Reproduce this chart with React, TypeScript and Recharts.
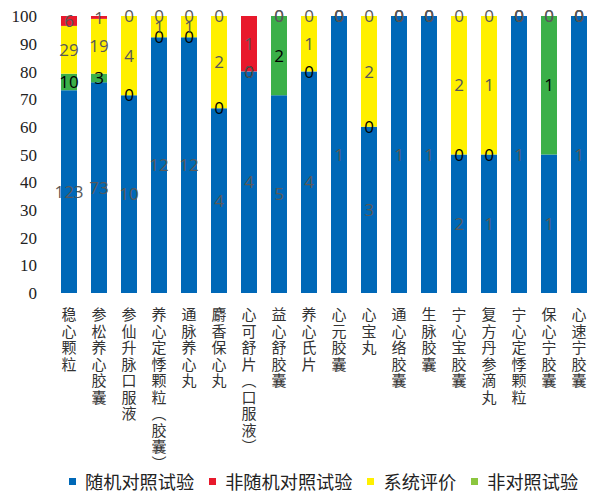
import { BarChart, Bar, XAxis, YAxis, LabelList } from 'recharts';

const categories = [
  '稳心颗粒', '参松养心胶囊', '参仙升脉口服液', '养心定悸颗粒（胶囊）', '通脉养心丸', '麝香保心丸',
  '心可舒片（口服液）', '益心舒胶囊', '养心氏片', '心元胶囊', '心宝丸', '通心络胶囊',
  '生脉胶囊', '宁心宝胶囊', '复方丹参滴丸', '宁心定悸颗粒', '保心宁胶囊', '心速宁胶囊'
];
const rct = [123, 73, 10, 12, 12, 4, 4, 5, 4, 1, 3, 1, 1, 2, 1, 1, 1, 1];
const nonRct = [6, 1, 0, 0, 0, 0, 1, 0, 0, 0, 0, 0, 0, 0, 0, 0, 0, 0];
const review = [29, 19, 4, 1, 1, 2, 0, 0, 1, 0, 2, 0, 0, 2, 1, 0, 0, 0];
const nonControlled = [10, 3, 0, 0, 0, 0, 0, 2, 0, 0, 0, 0, 0, 0, 0, 0, 1, 0];
const yTicks = [0, 0.1, 0.2, 0.3, 0.4, 0.5, 0.6, 0.7, 0.8, 0.9, 1];

// stacking order, bottom to top
const stack = [
  { key: 'rct', values: rct, color: '#0068b7', label: '#595959' },
  { key: 'nonControlled', values: nonControlled, color: '#3bb049', label: '#000' },
  { key: 'review', values: review, color: '#fff000', label: '#595959' },
  { key: 'nonRct', values: nonRct, color: '#e8192c', label: '#595959' }
];

const legendItems = [
  { name: '随机对照试验', color: '#0068b7' },
  { name: '非随机对照试验', color: '#e8192c' },
  { name: '系统评价', color: '#fff000' },
  { name: '非对照试验', color: '#8cc63f' }
];

const data = categories.map((name, i) => ({
  name,
  rct: rct[i],
  nonRct: nonRct[i],
  review: review[i],
  nonControlled: nonControlled[i]
}));

const verticalForm = (s: string) => s.replace(/（/g, '︵').replace(/）/g, '︶');

function CategoryTick({ x, y, payload }: any) {
  const chars = Array.from(verticalForm(String(payload.value)));
  return (
    <text
      x={x}
      y={y + 25}
      textAnchor="middle"
      fill="#333"
      style={{ fontFamily: '"Noto Sans CJK SC", sans-serif', fontSize: 15 }}
    >
      {chars.map((c, i) => (
        <tspan key={i} x={x} dy={i === 0 ? 0 : 16.5}>{c}</tspan>
      ))}
    </text>
  );
}

function ValueTick({ x, y, payload }: any) {
  return (
    <text
      x={x}
      y={y}
      dy="0.36em"
      textAnchor="end"
      fill="#222"
      style={{ fontFamily: '"Liberation Serif", "DejaVu Serif", serif', fontSize: 17 }}
    >
      {Math.round(payload.value * 100)}
    </text>
  );
}

const labelFont = { fontFamily: '"Open Sans", sans-serif', fontSize: 17 };

// draws this segment's label, plus labels of zero-valued segments stacked right above it
const makeLabel = (level: number) => (props: any) => {
  const { x, y, width, height, value } = props;
  const i = categories.indexOf(String(value));
  if (i < 0) return null;
  const cx = Number(x) + Number(width) / 2;
  const s = stack[level];
  const v = s.values[i];
  if (!v) return null;
  const out = [
    <text key="own" x={cx} y={Number(y) + Number(height) / 2} dy="0.36em" textAnchor="middle" fill={s.label}
      style={labelFont}>{v}</text>
  ];
  for (let k = level + 1; k < stack.length && stack[k].values[i] === 0; k++) {
    out.push(
      <text key={k} x={cx} y={Number(y)} dy="0.36em" textAnchor="middle" fill={stack[k].label}
        style={labelFont}>0</text>
    );
  }
  return <g>{out}</g>;
};

function ChartLegend() {
  return (
    <div style={{ position: 'absolute', left: 69, top: 470, display: 'flex', alignItems: 'center', fontFamily: '"Noto Sans CJK SC", sans-serif', fontSize: 18.2, lineHeight: '22px', color: '#222', whiteSpace: 'nowrap' }}>
      {legendItems.map((it) => (
        <div key={it.name} style={{ display: 'flex', alignItems: 'center', marginRight: 15 }}>
          <span style={{ width: 7, height: 7, background: it.color, marginRight: 9, display: 'inline-block' }} />
          <span>{it.name}</span>
        </div>
      ))}
    </div>
  );
}

export default function App() {
  return (
    <div style={{ position: 'absolute', left: 0, top: 0, width: 589, height: 493, overflow: 'hidden', background: '#fff' }}>
      <BarChart
        width={600}
        height={493}
        data={data}
        stackOffset="expand"
        margin={{ top: 16, right: 6, left: 14, bottom: 0 }}
      >
        <XAxis
          dataKey="name"
          interval={0}
          height={200}
          axisLine={false}
          tickLine={false}
          tickSize={0}
          tick={<CategoryTick />}
        />
        <YAxis
          width={40}
          domain={[0, 1]}
          ticks={yTicks}
          interval={0}
          axisLine={false}
          tickLine={false}
          tickSize={0}
          tickMargin={17}
          tick={<ValueTick />}
        />
        {stack.map((s, level) => (
          <Bar key={s.key} dataKey={s.key} stackId="a" fill={s.color} barSize={16} isAnimationActive={false}>
            <LabelList dataKey="name" content={makeLabel(level)} />
          </Bar>
        ))}
      </BarChart>
      <ChartLegend />
    </div>
  );
}
